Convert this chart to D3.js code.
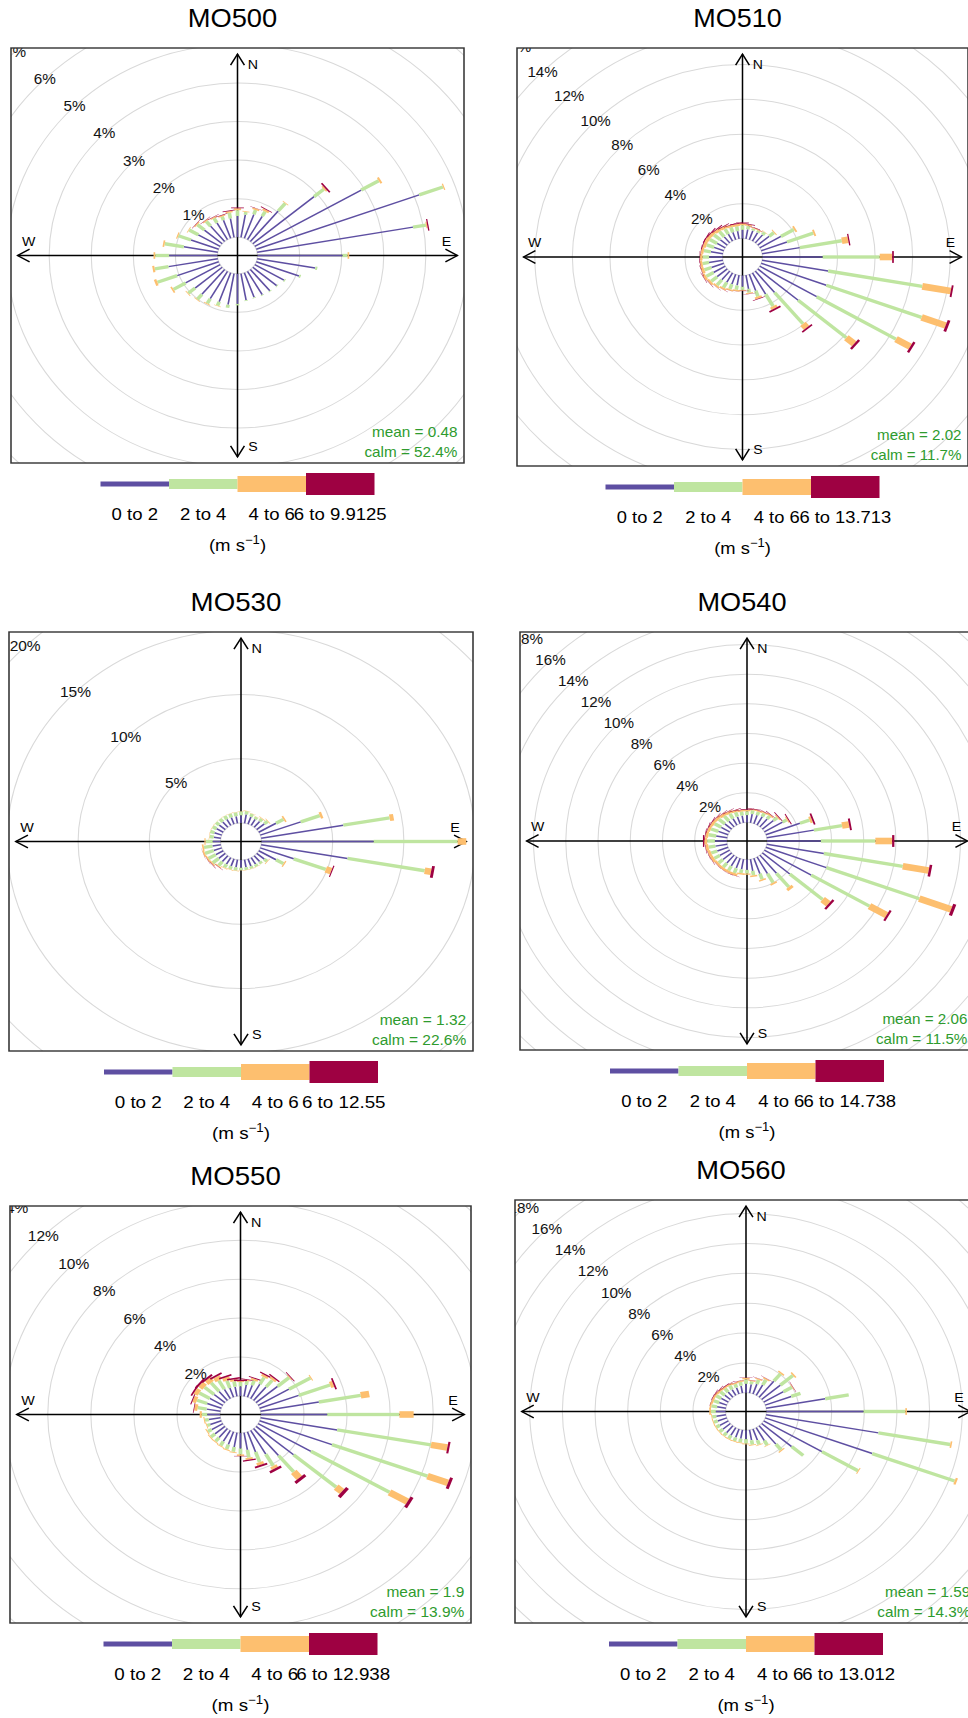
<!DOCTYPE html>
<html>
<head>
<meta charset="utf-8">
<script src="https://cdn.jsdelivr.net/npm/d3@7"></script>
<style>
  body { margin: 0; background: #ffffff; }
  svg { display: block; font-family: "Liberation Sans", Arial, sans-serif; }
</style>
</head>
<body>
<div id="div1"></div>
<script>
//Datos: direcciones cada 10 grados (10..360) y frecuencia (%) por clase de velocidad
var directions = d3.range(10, 361, 10);
var stations = ["MO500", "MO510", "MO530", "MO540", "MO550", "MO560"];
var speedLabels = ["0 to 2", "2 to 4", "4 to 6"];
var topSpeed = ["9.9125", "13.713", "12.55", "14.738", "12.938", "13.012"];
var meanSpeed = ["0.48", "2.02", "1.32", "2.06", "1.9", "1.59"];
var calmPct = ["52.4%", "11.7%", "22.6%", "11.5%", "13.9%", "14.3%"];
var gridStep = [1, 2, 5, 2, 2, 2];

var mo500_s1 = [0.60,0.66,0.70,1.03,1.90,2.92,4.12,3.76,2.02,1.40,1.08,0.80,0.74,0.72,0.70,0.68,0.70,0.78,0.82,0.80,0.82,0.84,0.84,0.95,1.05,1.19,1.15,0.82,0.70,0.60,0.55,0.52,0.50,0.50,0.50,0.55];
var mo500_s2 = [0.07,0.12,0.14,0.26,0.30,0.48,0.60,0.31,0.12,0.05,0.04,0.03,0.02,0.02,0.02,0.02,0.02,0.04,0.08,0.11,0.14,0.17,0.21,0.33,0.50,0.33,0.33,0.46,0.32,0.25,0.22,0.16,0.14,0.10,0.15,0.15];
var mo500_s3 = [0.02,0.04,0.05,0.02,0.04,0.05,0.03,0.03,0.04,0,0,0,0,0,0,0,0,0,0,0.01,0.02,0.02,0.02,0.04,0.06,0.05,0.04,0.04,0.03,0.02,0.03,0.03,0.03,0.03,0.04,0.05];
var mo500_s4 = [0,0.01,0.02,0,0.04,0,0,0.03,0,0,0,0,0,0,0,0,0,0,0,0,0,0,0,0,0,0,0,0,0,0,0.01,0.01,0.01,0.01,0.02,0.02];

var mo510_s1 = [0.55,0.55,0.55,0.60,0.80,1.30,1.46,2.04,3.21,3.57,3.69,3.50,2.81,1.60,1.40,1.00,0.80,0.65,0.60,0.60,0.62,0.65,0.70,0.72,0.70,0.75,0.72,0.65,0.55,0.50,0.48,0.45,0.45,0.45,0.45,0.50];
var mo510_s2 = [0.20,0.12,0.13,0.18,0.32,0.80,1.49,2.27,3.04,5.09,5.40,4.88,3.35,2.35,0.80,0.35,0.22,0.18,0.25,0.30,0.35,0.40,0.42,0.45,0.40,0.35,0.35,0.38,0.42,0.45,0.44,0.40,0.35,0.30,0.28,0.27];
var mo510_s3 = [0.08,0.05,0.04,0.03,0.05,0.10,0.10,0.34,0.66,1.54,1.36,0.87,0.54,0.30,0.15,0.12,0.06,0.05,0.08,0.08,0.10,0.10,0.12,0.14,0.15,0.12,0.13,0.14,0.17,0.19,0.17,0.17,0.15,0.12,0.12,0.10];
var mo510_s4 = [0.03,0.02,0.01,0,0,0,0,0.07,0.09,0.10,0.15,0.13,0.13,0.09,0.10,0.03,0.02,0.02,0.01,0.01,0.01,0.01,0.02,0.02,0.02,0.02,0.02,0.02,0.04,0.05,0.05,0.05,0.04,0.03,0.05,0.05];

var mo530_s1 = [0.70,0.60,0.55,0.60,0.70,1.40,3.03,5.86,7.88,6.16,2.50,1.40,0.70,0.60,0.60,0.60,0.60,0.60,0.60,0.60,0.60,0.60,0.60,0.60,0.60,0.60,0.55,0.50,0.55,0.55,0.55,0.55,0.55,0.55,0.55,0.60];
var mo530_s2 = [0.25,0.25,0.20,0.25,0.30,0.60,1.42,3.30,5.90,5.50,2.40,0.60,0.25,0.20,0.20,0.20,0.20,0.20,0.25,0.25,0.30,0.40,0.55,0.60,0.65,0.60,0.50,0.30,0.30,0.30,0.30,0.30,0.30,0.30,0.30,0.30];
var mo530_s3 = [0.03,0.02,0.02,0.05,0.05,0.12,0.18,0.28,0.60,0.45,0.40,0.10,0.05,0.02,0.02,0.02,0.02,0.02,0.03,0.03,0.05,0.08,0.10,0.10,0.12,0.12,0.08,0.03,0.02,0.02,0.02,0.02,0.02,0.02,0.02,0.02];
var mo530_s4 = [0,0,0,0,0,0,0,0,0,0.20,0.08,0,0,0,0,0,0,0,0,0,0,0.02,0.03,0.02,0.01,0,0,0,0,0,0,0,0,0,0,0];

var mo540_s1 = [0.60,0.60,0.65,0.70,0.90,1.30,2.25,2.97,3.34,3.60,4.00,3.36,2.22,1.60,1.30,1.10,0.80,0.70,0.70,0.70,0.70,0.70,0.70,0.70,0.72,0.75,0.75,0.70,0.65,0.60,0.55,0.50,0.50,0.50,0.50,0.50];
var mo540_s2 = [0.25,0.25,0.25,0.25,0.30,0.30,0.63,1.77,3.38,4.97,6.13,4.17,2.66,1.20,0.70,0.40,0.30,0.25,0.25,0.35,0.35,0.35,0.35,0.40,0.40,0.42,0.48,0.48,0.48,0.48,0.48,0.44,0.38,0.32,0.27,0.26];
var mo540_s3 = [0.08,0.08,0.08,0.10,0.08,0.08,0.15,0.44,1.04,1.63,2.10,1.22,0.47,0.20,0.12,0.10,0.10,0.08,0.10,0.15,0.15,0.15,0.15,0.18,0.18,0.18,0.18,0.18,0.18,0.18,0.18,0.19,0.17,0.13,0.10,0.09];
var mo540_s4 = [0.03,0.02,0.02,0.03,0.05,0.06,0.11,0.12,0.14,0.16,0.20,0.14,0.15,0,0,0,0,0,0,0.01,0.01,0.01,0.01,0.02,0.02,0.03,0.08,0.04,0.04,0.04,0.03,0.03,0.03,0.03,0.03,0.04];

var mo550_s1 = [0.60,0.65,0.85,0.90,1.30,1.65,1.93,2.75,3.08,3.61,3.57,2.83,2.27,1.80,1.40,1.10,0.90,0.80,0.75,0.70,0.65,0.60,0.60,0.60,0.55,0.55,0.60,0.65,0.70,0.70,0.65,0.60,0.55,0.50,0.50,0.50];
var mo550_s2 = [0.20,0.25,0.40,0.45,0.70,1.15,1.55,1.97,3.35,4.42,4.72,4.21,2.58,1.10,0.70,0.55,0.40,0.30,0.25,0.25,0.25,0.25,0.25,0.20,0.15,0.18,0.25,0.42,0.50,0.56,0.58,0.58,0.52,0.40,0.28,0.22];
var mo550_s3 = [0.06,0.10,0.12,0.12,0.05,0.05,0.15,0.40,0.66,0.77,1.01,0.96,0.35,0.40,0.15,0.15,0.10,0.08,0.05,0.05,0.05,0.05,0.05,0.05,0.04,0.05,0.10,0.15,0.18,0.22,0.24,0.24,0.22,0.18,0.10,0.05];
var mo550_s4 = [0.03,0.05,0.06,0.06,0.04,0,0.08,0,0,0.10,0.14,0.15,0.17,0.15,0.12,0.10,0.06,0.02,0,0,0,0,0,0,0,0,0,0.03,0.05,0.08,0.10,0.10,0.09,0.08,0.08,0.08];

var mo560_s1 = [0.60,0.70,0.80,1.40,1.50,1.40,1.70,3.68,5.95,6.99,6.98,4.12,2.40,1.60,1.00,0.80,0.70,0.60,0.60,0.60,0.60,0.60,0.60,0.60,0.60,0.60,0.60,0.55,0.50,0.50,0.45,0.45,0.45,0.45,0.50,0.60];
var mo560_s2 = [0.20,0.30,0.40,0.65,1.00,0.60,0.60,1.46,2.56,4.46,5.37,2.55,0.93,0.50,0.35,0.30,0.30,0.30,0.25,0.25,0.25,0.25,0.25,0.25,0.25,0.25,0.30,0.35,0.35,0.35,0.35,0.30,0.30,0.25,0.25,0.30];
var mo560_s3 = [0.06,0.08,0.08,0.10,0.10,0.05,0,0,0.10,0.10,0.14,0.06,0,0.08,0.04,0.05,0.05,0.05,0.05,0.05,0.05,0.05,0.05,0.05,0.05,0.05,0.10,0.10,0.12,0.12,0.12,0.10,0.10,0.08,0.08,0.10];
var mo560_s4 = [0.02,0.02,0.02,0,0,0.02,0,0,0,0,0,0,0,0,0,0,0,0,0,0,0,0,0,0,0,0,0,0,0.02,0.03,0.03,0.03,0.03,0.02,0.02,0.02];

var series = [
    [mo500_s1, mo500_s2, mo500_s3, mo500_s4],
    [mo510_s1, mo510_s2, mo510_s3, mo510_s4],
    [mo530_s1, mo530_s2, mo530_s3, mo530_s4],
    [mo540_s1, mo540_s2, mo540_s3, mo540_s4],
    [mo550_s1, mo550_s2, mo550_s3, mo550_s4],
    [mo560_s1, mo560_s2, mo560_s3, mo560_s4]
];

//Colores (Spectral) y posicion de cada panel en la pagina
var colours = ["#5e4fa2", "#bfe5a0", "#fdbf6f", "#9e0142"];
var boxes = [
    {x: 11,  y: 48,   w: 453, h: 415},
    {x: 517, y: 48,   w: 451, h: 418},
    {x: 9,   y: 632,  w: 464, h: 419},
    {x: 520, y: 632,  w: 454, h: 418},
    {x: 10,  y: 1206, w: 461, h: 417},
    {x: 515, y: 1200, w: 462, h: 423}
];
var legendWidth = 274;
var legendThick = [5, 10, 16, 22];

//Anchos de las paletas (como openair)
var wa = Math.pow(0.002, 0.25), wb = Math.pow(0.016, 0.25);
var paddle = d3.range(4).map(i => Math.pow(wa + i * (wb - wa) / 3, 4));

//Crea Lienzo
var svg = d3.select("#div1")
            .append("svg")
            .attr("width", 968)
            .attr("height", 1718);

stations.forEach((name, p) => drawRose(name, p));

function drawRose(name, p) {
    var box = boxes[p];
    var h = box.h;
    var sx = box.w / box.h;
    var c = h / 2;

    //Frecuencias acumuladas por direccion
    var cum = directions.map((d, i) => {
        var acc = 0;
        return series[p].map(s => acc += s[i]);
    });
    var maxFreq = d3.max(cum, d => d[3]);
    var off = maxFreq * 0.1;
    var R = (maxFreq + off) * 1.03;
    var r = d3.scaleLinear().domain([0, R]).range([0, c]);
    var m = r(maxFreq + off);

    var g = svg.append("g")
               .attr("transform", `translate(${box.x},${box.y}) scale(${sx},1)`);

    //Titulo
    g.append("text")
        .attr("x", c - 5 / sx)
        .attr("y", -21)
        .attr("text-anchor", "middle")
        .attr("font-size", 25)
        .attr("fill", "#000")
        .text(name);

    g.append("clipPath")
        .attr("id", "clip" + p)
        .append("rect")
        .attr("width", h)
        .attr("height", h);

    var centre = g.append("g")
                  .attr("clip-path", `url(#clip${p})`)
                  .append("g")
                  .attr("transform", `translate(${c},${c})`);

    //Circulos de la rejilla
    var step = gridStep[p];
    var rings = d3.range(0, R * 2, step).filter(v => v + off <= R * 1.45);
    centre.append("g")
        .selectAll("circle")
        .data(rings)
        .enter()
        .append("circle")
        .attr("r", d => r(d + off))
        .attr("fill", "none")
        .attr("stroke", "#d9d9d9")
        .attr("stroke-width", 1);

    //Ejes con flechas
    var axes = centre.append("g")
                     .attr("stroke", "#000")
                     .attr("stroke-width", 1.4)
                     .attr("fill", "none");
    axes.append("line").attr("x1", -m).attr("x2", m);
    axes.append("line").attr("y1", -m).attr("y2", m);
    var ah = 11, aw = 11 * Math.tan(Math.PI / 6);
    [0, 90, 180, 270].forEach(a => {
        axes.append("path")
            .attr("transform", `rotate(${a})`)
            .attr("d", `M${-aw},${-m + ah}L0,${-m}L${aw},${-m + ah}`);
    });

    //Paletas por direccion y clase de velocidad
    var dirs = centre.append("g")
                     .selectAll("g")
                     .data(cum)
                     .enter()
                     .append("g")
                     .attr("transform", (d, i) => `rotate(${directions[i]})`);
    dirs.selectAll("rect")
        .data(d => d.map((v, j) => ({lo: j ? d[j - 1] : 0, hi: v, j: j})))
        .enter()
        .filter(d => d.hi > d.lo)
        .append("rect")
        .attr("x", d => -r(paddle[d.j] * maxFreq * 2))
        .attr("width", d => 2 * r(paddle[d.j] * maxFreq * 2))
        .attr("y", d => -r(d.hi + off))
        .attr("height", d => r(d.hi + off) - r(d.lo + off))
        .attr("fill", d => colours[d.j]);

    //Etiquetas de porcentaje en diagonal NW
    var s45 = Math.SQRT1_2;
    centre.append("g")
        .selectAll("text")
        .data(rings.filter(v => v > 0))
        .enter()
        .append("text")
        .attr("x", d => -r(d + off) * s45)
        .attr("y", d => -r(d + off) * s45)
        .attr("dy", "0.35em")
        .attr("text-anchor", "middle")
        .attr("font-size", 14)
        .attr("fill", "#111")
        .text(d => d + "%");

    //Puntos cardinales
    var cardinal = [
        {t: "N", x: 0.07 * m, y: -0.95 * m},
        {t: "S", x: 0.07 * m, y: 0.95 * m},
        {t: "E", x: 0.95 * m, y: -0.07 * m},
        {t: "W", x: -0.95 * m, y: -0.07 * m}
    ];
    centre.append("g")
        .selectAll("text")
        .data(cardinal)
        .enter()
        .append("text")
        .attr("x", d => d.x)
        .attr("y", d => d.y)
        .attr("dy", "0.35em")
        .attr("text-anchor", "middle")
        .attr("font-size", 13)
        .attr("fill", "#000")
        .text(d => d.t);

    //Media y calmas
    var stats = centre.append("g")
                      .attr("text-anchor", "end")
                      .attr("font-size", 14)
                      .attr("fill", "#2e9b2e");
    stats.append("text").attr("x", m).attr("y", m - 20).text("mean = " + meanSpeed[p]);
    stats.append("text").attr("x", m).attr("y", m).text("calm = " + calmPct[p]);

    //Marco del panel
    g.append("rect")
        .attr("width", h)
        .attr("height", h)
        .attr("fill", "none")
        .attr("stroke", "#333")
        .attr("stroke-width", 1.4);

    //Leyenda
    var lw = legendWidth / sx;
    var seg = lw / 4;
    var lx = c - lw / 2;
    var labels = speedLabels.concat(["6 to " + topSpeed[p]]);
    var legend = g.append("g").attr("transform", `translate(${lx},${h + 21})`);
    legend.selectAll("rect")
        .data(labels)
        .enter()
        .append("rect")
        .attr("x", (d, i) => i * seg)
        .attr("y", (d, i) => -legendThick[i] / 2)
        .attr("width", seg)
        .attr("height", (d, i) => legendThick[i])
        .attr("fill", (d, i) => colours[i]);
    legend.selectAll("text")
        .data(labels)
        .enter()
        .append("text")
        .attr("x", (d, i) => (i + 0.5) * seg)
        .attr("y", 36)
        .attr("text-anchor", "middle")
        .attr("font-size", 17)
        .attr("fill", "#000")
        .text(d => d);

    var units = g.append("text")
                 .attr("x", c)
                 .attr("y", h + 88)
                 .attr("text-anchor", "middle")
                 .attr("font-size", 17)
                 .attr("fill", "#000");
    units.append("tspan").text("(m s");
    units.append("tspan").attr("dy", -7).attr("font-size", 12).text("\u22121");
    units.append("tspan").attr("dy", 7).text(")");
}
</script>
</body>
</html>
